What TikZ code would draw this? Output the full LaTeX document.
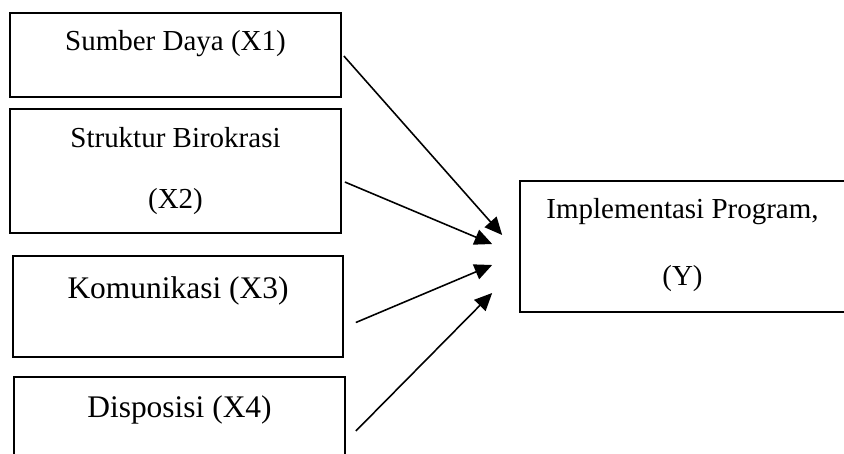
\documentclass[tikz,border=0pt]{standalone}
\usepackage{fontspec}
\setmainfont{Liberation Serif}
\usetikzlibrary{arrows.meta}

\begin{document}
\begin{tikzpicture}[
    x=0.02cm, y=-0.02cm,
    box/.style={draw, line width=1pt, inner sep=0pt, anchor=base, align=center, font=\fontsize{16.5}{34.6}\selectfont},
    bigbox/.style={box, font=\fontsize{17.9}{21}\selectfont},
    link/.style={line width=0.9pt, -{Triangle[length=10pt, width=9pt]}}
]
\clip (0,0) rectangle (844,453);
\node[box, minimum width=6.62cm, text height=0.74cm, text depth=0.94cm] (s1) at (175.5,50) {Sumber Daya (X1)};
\node[box, minimum width=6.62cm, text height=1.98cm, text depth=0.5cm] (s2) at (175.5,208) {Struktur Birokrasi\\(X2)};
\node[bigbox, minimum width=6.6cm, text height=0.84cm, text depth=1.18cm] (s3) at (178,298) {Komunikasi (X3)};
\node[bigbox, minimum width=6.62cm, text height=0.8cm, text depth=1.6cm] (s4) at (179.5,417) {Disposisi (X4)};
\node[box, minimum width=6.5cm, text height=2.08cm, text depth=0.54cm, font=\fontsize{16.5}{38}\selectfont] (y) at (682.5,285) {Implementasi Program,\\(Y)};
\draw[link] ([shift={(2,1)}]s1.east) -- ([shift={(-17,-11.5)}]y.west);
\draw[link] ([shift={(3,11)}]s2.east) -- ([shift={(-27,-2.5)}]y.west);
\draw[link] ([shift={(12,16)}]s3.east) -- ([shift={(-27,18.5)}]y.west);
\draw[link] ([shift={(10,-6)}]s4.east) -- ([shift={(-27,46.5)}]y.west);
\end{tikzpicture}
\end{document}
